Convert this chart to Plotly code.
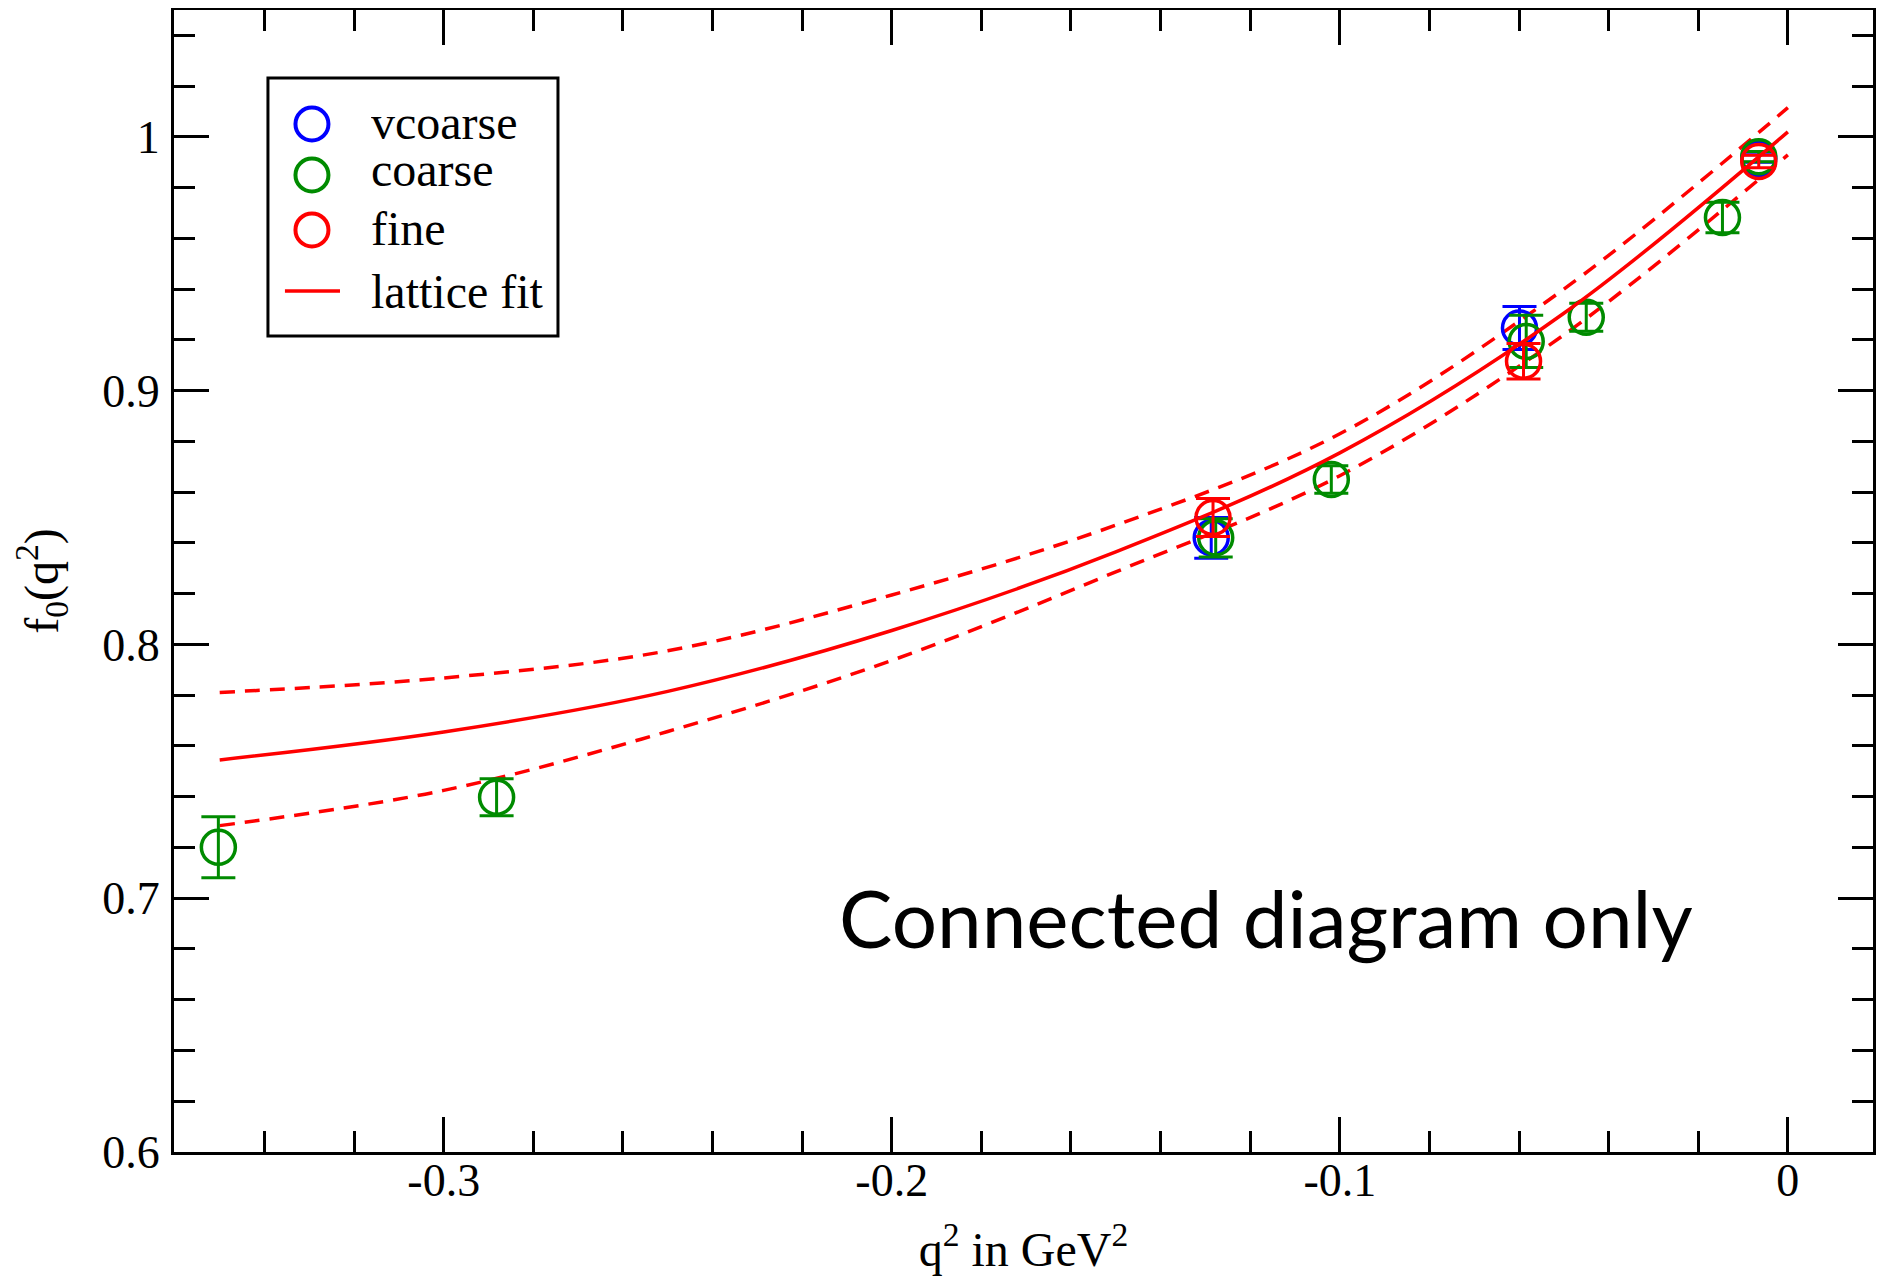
import plotly.graph_objects as go

# ---- data ----
vcoarse_x = [-0.1287, -0.0599, -0.0065]
vcoarse_y = [0.842, 0.9247, 0.9915]
vcoarse_err = [0.008, 0.0085, 0.0015]

coarse_x = [-0.3503, -0.2882, -0.1277, -0.1019, -0.0584, -0.045, -0.0146, -0.0065]
coarse_y = [0.7201, 0.7398, 0.842, 0.865, 0.9194, 0.9289, 0.9682, 0.9922]
coarse_err = [0.012, 0.0073, 0.0075, 0.0054, 0.0103, 0.0055, 0.006, 0.002]

fine_x = [-0.1283, -0.059, -0.0065]
fine_y = [0.850, 0.9116, 0.9903]
fine_err = [0.0075, 0.007, 0.0025]

fit_x = [-0.35, -0.30, -0.25, -0.20, -0.15, -0.10, -0.05, 0.0]
fit_y = [0.7545, 0.7655, 0.7815, 0.8055, 0.8365, 0.8755, 0.9305, 1.002]
fit_hi_y = [0.7811, 0.7868, 0.7975, 0.8195, 0.8470, 0.8830, 0.9400, 1.0115]
fit_lo_y = [0.7286, 0.7425, 0.7657, 0.7937, 0.8286, 0.8665, 0.9220, 0.9929]

x_ticks = [-0.3, -0.2, -0.1, 0.0]
x_ticktext = ["-0.3", "-0.2", "-0.1", "0"]
y_ticks = [0.6, 0.7, 0.8, 0.9, 1.0]
y_ticktext = ["0.6", "0.7", "0.8", "0.9", "1"]

legend_names = ["vcoarse", "coarse", "fine", "lattice fit"]

BLUE = "rgb(0,0,255)"
GREEN = "rgb(0,139,0)"
RED = "rgb(255,0,0)"
SERIF = "Liberation Serif"

fig = go.Figure()

def pts(name, x, y, e, color):
    fig.add_trace(go.Scatter(
        x=x, y=y, mode="markers", name=name, showlegend=False,
        marker=dict(symbol="circle-open", size=34, color=color,
                    line=dict(width=3.5, color=color)),
        error_y=dict(type="data", array=e, visible=True, color=color,
                     thickness=3, width=17),
    ))

fig.add_trace(go.Scatter(x=fit_x, y=fit_hi_y, mode="lines", showlegend=False,
                         line=dict(color=RED, width=3.5, dash="15px,10px", shape="spline")))
fig.add_trace(go.Scatter(x=fit_x, y=fit_lo_y, mode="lines", showlegend=False,
                         line=dict(color=RED, width=3.5, dash="15px,10px", shape="spline")))

pts(legend_names[0], vcoarse_x, vcoarse_y, vcoarse_err, BLUE)
pts(legend_names[1], coarse_x, coarse_y, coarse_err, GREEN)
pts(legend_names[2], fine_x, fine_y, fine_err, RED)

fig.add_trace(go.Scatter(x=fit_x, y=fit_y, mode="lines", name=legend_names[3], showlegend=False,
                         line=dict(color=RED, width=3.5, shape="spline")))

axis_common = dict(
    showgrid=False, zeroline=False, showline=True, linecolor="black", linewidth=3,
    mirror="ticks", ticks="inside", tickcolor="black", tickwidth=3, ticklen=35,
    tickfont=dict(family=SERIF, size=46, color="black"),
    tickmode="array",
)

fig.update_xaxes(
    **axis_common, range=[-0.3602, 0.0190], tickvals=x_ticks, ticktext=x_ticktext,
    minor=dict(ticks="inside", dtick=0.02, tick0=0, ticklen=21, tickwidth=2.5, tickcolor="black"),
    title=dict(text="q<sup>2</sup> in GeV<sup>2</sup>", font=dict(family=SERIF, size=48, color="black"),
               standoff=30),
    ticklabelstandoff=-14,
)
fig.update_yaxes(
    **axis_common, range=[0.6, 1.05], tickvals=y_ticks, ticktext=y_ticktext,
    minor=dict(ticks="inside", dtick=0.02, tick0=0, ticklen=21, tickwidth=2.5, tickcolor="black"),
    title=dict(text="f<sub>0</sub>(q<sup>2</sup>)", font=dict(family=SERIF, size=48, color="black"),
               standoff=37),
    ticklabelstandoff=2,
)

fig.add_annotation(
    x=0.643, y=0.2055, xref="paper", yref="paper", xanchor="center", yanchor="middle",
    text="Connected diagram only", showarrow=False,
    font=dict(family="Lato", size=80, color="black"),
)

# ---- hand-drawn legend box (large symbols like the reference) ----
LX, LY0, LY1 = 0.0812, [0.9002, 0.8555, 0.8074], 0.7539
shapes = [dict(type="rect", xref="paper", yref="paper", x0=0.0553, x1=0.2260, y0=0.7145, y1=0.9405,
               line=dict(color="black", width=3), fillcolor="white", layer="above")]
for yy, col in zip(LY0, [BLUE, GREEN, RED]):
    shapes.append(dict(type="circle", xref="paper", yref="paper",
                       xsizemode="pixel", ysizemode="pixel", xanchor=LX, yanchor=yy,
                       x0=-16.5, x1=16.5, y0=-16.5, y1=16.5,
                       line=dict(color=col, width=4), layer="above"))
shapes.append(dict(type="line", xref="paper", yref="paper", x0=0.0653, x1=0.0977, y0=LY1, y1=LY1,
                   line=dict(color=RED, width=3.5), layer="above"))
fig.update_layout(shapes=shapes)

for name, yy in zip(legend_names, [0.9020, 0.8610, 0.8095, 0.7540]):
    fig.add_annotation(x=0.1145, y=yy, xref="paper", yref="paper", xanchor="left", yanchor="middle",
                       height=44, valign="middle",
                       text=name, showarrow=False, font=dict(family=SERIF, size=48, color="black"))

# the page body adds an 8px margin, so the figure is 8px smaller than the window
fig.update_layout(
    width=1877, height=1268,
    margin=dict(l=166, r=12, t=2, b=124, autoexpand=False),
    paper_bgcolor="white", plot_bgcolor="white",
    showlegend=False,
)

fig.write_html("out.html")
